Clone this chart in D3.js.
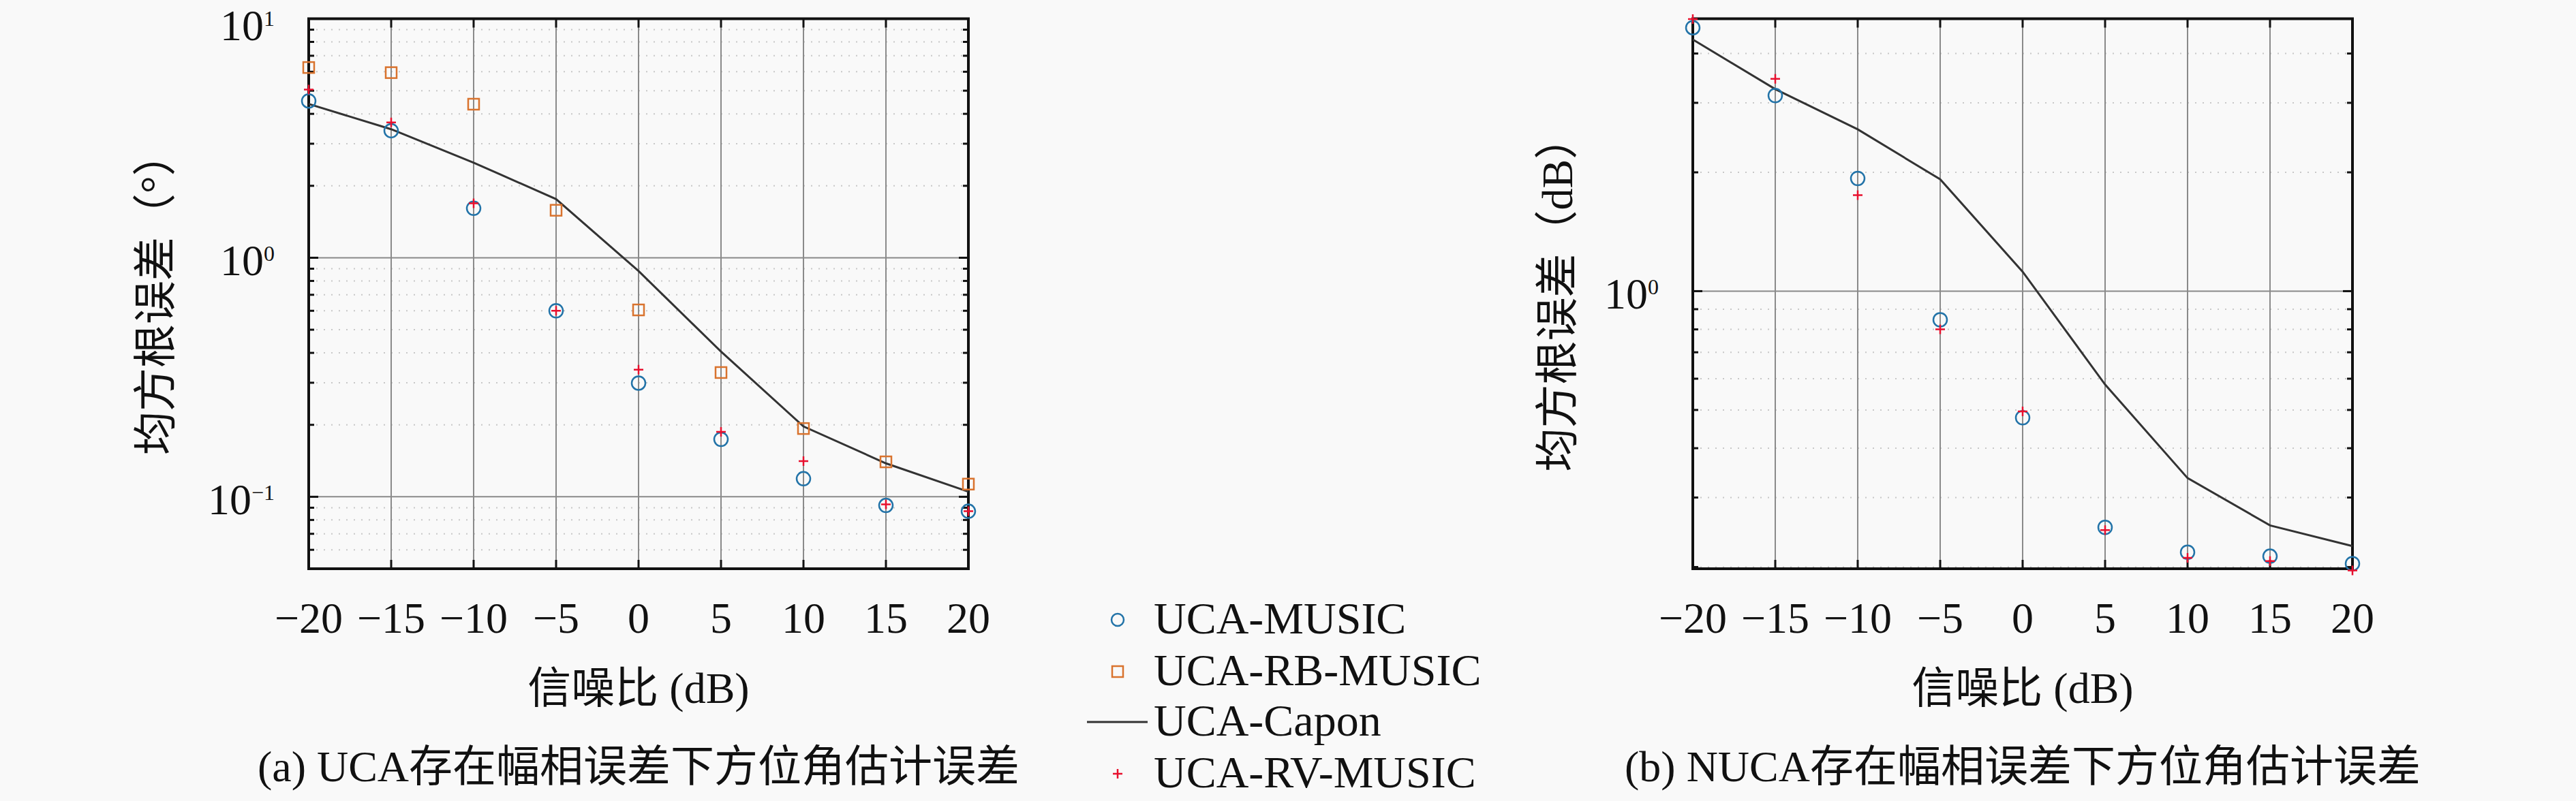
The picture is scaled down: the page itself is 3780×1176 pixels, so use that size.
<!DOCTYPE html>
<html>
<head>
<meta charset="utf-8">
<script src="https://cdn.jsdelivr.net/npm/d3@7"></script>
<style>
	body { margin: 0; background: #f9f9f9; }
	text { font-family: "Liberation Serif", "Noto Sans CJK SC", serif; fill: #111; }
</style>
</head>
<body>
<div id="chart"></div>
<script>
// SNR values (dB) shared by both panels
const snr = [-20, -15, -10, -5, 0, 5, 10, 15, 20];

// panel (a): UCA
const aMusic = [4.53, 3.4, 1.61, 0.6, 0.299, 0.174, 0.119, 0.092, 0.087];
const aRbMusic = [6.25, 5.95, 4.39, 1.58, 0.605, 0.331, 0.193, 0.14, 0.113];
const aCapon = [4.4, 3.45, 2.5, 1.76, 0.88, 0.405, 0.197, 0.138, 0.105];
const aRvMusic = [5.05, 3.68, 1.69, 0.6, 0.34, 0.187, 0.141, 0.093, 0.087];

// panel (b): NUCA
const bMusic = [4.65, 3.13, 1.93, 0.846, 0.478, 0.252, 0.218, 0.213, 0.204];
const bCapon = [4.34, 3.25, 2.57, 1.92, 1.12, 0.58, 0.336, 0.255, 0.226];
const bRvMusic = [4.89, 3.45, 1.75, 0.8, 0.496, 0.248, 0.211, 0.207, 0.196];

const legendNames = ["UCA-MUSIC", "UCA-RB-MUSIC", "UCA-Capon", "UCA-RV-MUSIC"];

const colMusic = "#2273a8";
const colRb = "#d9732e";
const colRv = "#e8102e";
const colCapon = "#333";

const width = 3780;
const height = 1176;

const svg = d3
	.select("#chart")
	.append("svg")
	.attr("width", width)
	.attr("height", height);

svg.append("rect").attr("width", width).attr("height", height).attr("fill", "#f9f9f9");

function drawPanel(p) {
	const xScale = d3.scaleLinear().domain([-20, 20]).range([p.left, p.left + 968]);
	const yScale = d3.scaleLog().domain(p.yDomain).range([835, 27.5]);
	const x0 = xScale.range()[0], x1 = xScale.range()[1];
	const yTop = 27.5, yBot = 835;
	const g = svg.append("g");

	// minor log gridlines + ticks
	const minors = [];
	const decades = [];
	for (let e = -2; e <= 1; e++) {
		for (let m = 1; m <= 9; m++) {
			const v = m * Math.pow(10, e);
			if (v < p.yDomain[0] || v > p.yDomain[1]) continue;
			if (m === 1) decades.push(v);
			else minors.push(v);
		}
	}

	g.selectAll(".minor")
		.data(minors)
		.enter()
		.append("line")
		.attr("x1", x0)
		.attr("x2", x1)
		.attr("y1", (d) => yScale(d))
		.attr("y2", (d) => yScale(d))
		.attr("stroke", "#c8c8c8")
		.attr("stroke-width", 2)
		.attr("stroke-dasharray", "2,9");

	// major gridlines
	g.selectAll(".vgrid")
		.data(snr)
		.enter()
		.append("line")
		.attr("x1", (d) => xScale(d))
		.attr("x2", (d) => xScale(d))
		.attr("y1", yTop)
		.attr("y2", yBot)
		.attr("stroke", "#8a8a8a")
		.attr("stroke-width", 2);

	g.selectAll(".hgrid")
		.data(decades)
		.enter()
		.append("line")
		.attr("x1", x0)
		.attr("x2", x1)
		.attr("y1", (d) => yScale(d))
		.attr("y2", (d) => yScale(d))
		.attr("stroke", "#8a8a8a")
		.attr("stroke-width", 2);

	// ticks on all four sides (inward)
	[x0, x1].forEach(function (xx, i) {
		const dir = i === 0 ? 1 : -1;
		g.selectAll(null)
			.data(minors)
			.enter()
			.append("line")
			.attr("x1", xx)
			.attr("x2", xx + dir * 8)
			.attr("y1", (d) => yScale(d))
			.attr("y2", (d) => yScale(d))
			.attr("stroke", "#111")
			.attr("stroke-width", 3);
		g.selectAll(null)
			.data(decades)
			.enter()
			.append("line")
			.attr("x1", xx)
			.attr("x2", xx + dir * 14)
			.attr("y1", (d) => yScale(d))
			.attr("y2", (d) => yScale(d))
			.attr("stroke", "#111")
			.attr("stroke-width", 3);
	});
	[yTop, yBot].forEach(function (yy, i) {
		const dir = i === 0 ? 1 : -1;
		g.selectAll(null)
			.data(snr)
			.enter()
			.append("line")
			.attr("x1", (d) => xScale(d))
			.attr("x2", (d) => xScale(d))
			.attr("y1", yy)
			.attr("y2", yy + dir * 13)
			.attr("stroke", "#111")
			.attr("stroke-width", 3);
	});

	// box
	g.append("rect")
		.attr("x", x0)
		.attr("y", yTop)
		.attr("width", x1 - x0)
		.attr("height", yBot - yTop)
		.attr("fill", "none")
		.attr("stroke", "#111")
		.attr("stroke-width", 4);

	// x tick labels
	g.selectAll(".xlab")
		.data(snr)
		.enter()
		.append("text")
		.attr("x", (d) => xScale(d))
		.attr("y", 929)
		.attr("text-anchor", "middle")
		.attr("font-size", 64)
		.text((d) => (d < 0 ? "\u2212" + Math.abs(d) : d));

	// y tick labels 10^n (top one nudged so it stays inside the page)
	const ylab = g
		.selectAll(".ylab")
		.data(p.yLabels)
		.enter()
		.append("text")
		.attr("x", x0 - 50)
		.attr("y", (d) => Math.max(yScale(Math.pow(10, d)) + 26, 59))
		.attr("text-anchor", "end")
		.attr("font-size", 64);
	ylab.append("tspan").text("10");
	ylab.append("tspan")
		.attr("font-size", 32)
		.attr("dy", -21)
		.text((d) => (d < 0 ? "\u2212" + Math.abs(d) : d));

	// axis labels
	g.append("text")
		.attr("x", (x0 + x1) / 2)
		.attr("y", 1032)
		.attr("text-anchor", "middle")
		.attr("font-size", 64)
		.text("信噪比 (dB)");

	g.append("text")
		.attr("transform", `translate(${p.yLabelX}, ${(yTop + yBot) / 2}) rotate(-90)`)
		.attr("text-anchor", "middle")
		.attr("dominant-baseline", "central")
		.attr("font-size", 64)
		.text(p.yLabel);

	g.append("text")
		.attr("x", (x0 + x1) / 2)
		.attr("y", 1147)
		.attr("text-anchor", "middle")
		.attr("font-size", 64)
		.text(p.caption);

	// series
	const line = d3
		.line()
		.x((d, i) => xScale(snr[i]))
		.y((d) => yScale(d));

	g.append("path")
		.datum(p.capon)
		.attr("d", line)
		.attr("fill", "none")
		.attr("stroke", colCapon)
		.attr("stroke-width", 3);

	if (p.rb) {
		g.selectAll(".sq")
			.data(p.rb)
			.enter()
			.append("rect")
			.attr("x", (d, i) => xScale(snr[i]) - 8)
			.attr("y", (d) => yScale(d) - 8)
			.attr("width", 16)
			.attr("height", 16)
			.attr("fill", "none")
			.attr("stroke", colRb)
			.attr("stroke-width", 2.5);
	}

	g.selectAll(".circ")
		.data(p.music)
		.enter()
		.append("circle")
		.attr("cx", (d, i) => xScale(snr[i]))
		.attr("cy", (d) => yScale(d))
		.attr("r", 10)
		.attr("fill", "none")
		.attr("stroke", colMusic)
		.attr("stroke-width", 2.5);

	g.selectAll(".plus")
		.data(p.rv)
		.enter()
		.append("path")
		.attr("d", function (d, i) {
			const cx = xScale(snr[i]), cy = yScale(d);
			return `M${cx - 7},${cy}H${cx + 7}M${cx},${cy - 7}V${cy + 7}`;
		})
		.attr("stroke", colRv)
		.attr("stroke-width", 2.5);
}

drawPanel({
	left: 453,
	yDomain: [0.05, 10],
	yLabels: [1, 0, -1],
	yLabelX: 228,
	yLabel: "均方根误差（°）",
	caption: "(a) UCA存在幅相误差下方位角估计误差",
	music: aMusic,
	rb: aRbMusic,
	capon: aCapon,
	rv: aRvMusic,
});

drawPanel({
	left: 2484,
	yDomain: [0.198, 4.9],
	yLabels: [0],
	yLabelX: 2285,
	yLabel: "均方根误差（dB）",
	caption: "(b) NUCA存在幅相误差下方位角估计误差",
	music: bMusic,
	rb: null,
	capon: bCapon,
	rv: bRvMusic,
});

// legend
const legend = svg.append("g").attr("transform", "translate(1640, 910)");
const rowY = [0, 76, 150, 226];

legend.append("circle").attr("cx", 0).attr("cy", rowY[0]).attr("r", 9)
	.attr("fill", "none").attr("stroke", colMusic).attr("stroke-width", 2.5);
legend.append("rect").attr("x", -8).attr("y", rowY[1] - 8).attr("width", 16).attr("height", 16)
	.attr("fill", "none").attr("stroke", colRb).attr("stroke-width", 2.5);
legend.append("line").attr("x1", -45).attr("x2", 44).attr("y1", rowY[2]).attr("y2", rowY[2])
	.attr("stroke", colCapon).attr("stroke-width", 3);
legend.append("path").attr("d", `M-7,${rowY[3]}H7M0,${rowY[3] - 7}V${rowY[3] + 7}`)
	.attr("stroke", colRv).attr("stroke-width", 2.5);

legend.selectAll(".ltext")
	.data(legendNames)
	.enter()
	.append("text")
	.attr("x", 53)
	.attr("y", (d, i) => rowY[i] + 20)
	.attr("font-size", 66)
	.text((d) => d);
</script>
</body>
</html>
